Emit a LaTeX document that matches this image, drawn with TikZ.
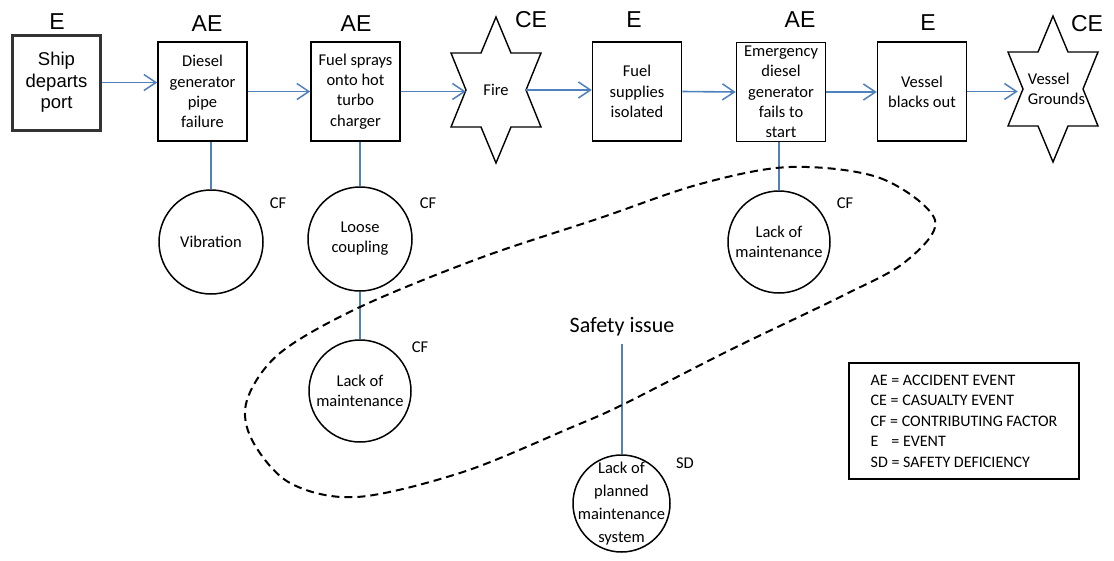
\documentclass[tikz,border=0pt]{standalone}
\usepackage{fontspec}
\setmainfont{Carlito}
\newfontfamily\arialfont{Liberation Sans}
\usetikzlibrary{arrows.meta}
\definecolor{linkblue}{RGB}{79,129,189}

\begin{document}
\begin{tikzpicture}[x=1pt,y=-1pt,
  evbox/.style={draw, line width=1.5pt, minimum width=89pt, minimum height=99pt,
    inner sep=0pt, align=center, font=\fontsize{16.5}{20.3}\selectfont},
  startbox/.style={draw=black!80, line width=3pt, minimum width=88pt, minimum height=95pt,
    inner sep=0pt, align=center, font=\arialfont\fontsize{18.5}{21.7}\selectfont},
  starbox/.style={inner sep=0pt, minimum height=20pt, align=left,
    font=\fontsize{16.5}{20.3}\selectfont},
  factor/.style={draw, circle, line width=1.5pt, inner sep=0pt, align=center,
    font=\fontsize{16.5}{20}\selectfont},
  tag/.style={font=\arialfont\fontsize{23}{23}\selectfont, inner sep=0pt},
  small/.style={font=\fontsize{16.5}{16.5}\selectfont, inner sep=0pt},
  flow/.style={draw=linkblue, line width=1.6pt, -{Straight Barb[length=12pt,width=16pt,line width=1.5pt]}},
  link/.style={draw=linkblue, line width=1.6pt},
  group/.style={draw, line width=2pt, dash pattern=on 8pt off 5pt},
  legendbox/.style={draw, line width=1.5pt, minimum width=230pt, minimum height=116pt,
    align=left, inner sep=0pt, font=\fontsize{16}{20.5}\selectfont},
  sixstar/.pic={\draw[line width=1.4pt, line join=miter]
    (0,-73) -- (15,-37) -- (45,-37) -- (30,0) -- (45,37) -- (15,37) -- (0,73)
    -- (-15,37) -- (-45,37) -- (-30,0) -- (-45,-37) -- (-15,-37) -- cycle;}
]
\useasboundingbox (0,0) rectangle (1114,560);

% event chain
\node[startbox] (ship) at (56.5,82.5) {Ship\\departs\\port};
\node[evbox] (pipe) at (202.5,91.5) {Diesel\\generator\\pipe\\failure};
\node[evbox] (spray) at (355.5,91.5) {Fuel sprays\\onto hot\\turbo\\charger};
\pic at (496,90) {sixstar};
\node[starbox, minimum width=60pt, align=center] (fire) at (496,90) {Fire};
\node[evbox] (isolated) at (637,91.5) {Fuel\\supplies\\isolated};
\node[evbox] (edg) at (781,92) {Emergency\\diesel\\generator\\fails to\\start};
\node[evbox] (blackout) at (922,91.5) {Vessel\\blacks out};
\pic at (1053,89) {sixstar};
\node[starbox, minimum width=70pt] (grounds) at (1053,89) {\hspace*{7pt}Vessel\\\hspace*{7pt}Grounds};

% event type tags
\node[tag] (tship) at (57,21.5) {E};
\node[tag] (tpipe) at (207,23.5) {AE};
\node[tag] (tspray) at (356,23.5) {AE};
\node[tag] (tfire) at (531,19.5) {CE};
\node[tag] (tisol) at (634,20) {E};
\node[tag] (tedg) at (800,19.5) {AE};
\node[tag] (tblack) at (928,22.5) {E};
\node[tag] (tground) at (1087,24) {CE};

% contributing factors
\node[factor, minimum size=104pt] (vib) at (211,242) {Vibration};
\node[factor, minimum size=104pt] (loose) at (360,239) {Loose\\coupling};
\node[factor, minimum size=102pt] (maintA) at (360,391) {Lack of\\maintenance};
\node[factor, minimum size=102pt] (maintB) at (779,242) {Lack of\\maintenance};
\node[factor, minimum size=97pt] (planned) at (621.5,503.5) {};
\node[inner sep=0pt, align=center, font=\fontsize{16.5}{23}\selectfont] (plannedtext) at (621.5,503.5)
  {Lack of\\planned\\maintenance\\system};

\node[small] (cf1) at (278,203) {CF};
\node[small] (cf2) at (428,203) {CF};
\node[small] (cf3) at (420,347) {CF};
\node[small] (cf4) at (845,203) {CF};
\node[small] (sd) at (685,463) {SD};

\node[inner sep=0pt, font=\fontsize{22}{22}\selectfont] (issue) at (622,327) {Safety issue};

% legend
\node[legendbox] (legend) at (964,421) {AE = ACCIDENT EVENT\\CE = CASUALTY EVENT\\CF = CONTRIBUTING FACTOR\\\makebox[1.07em][l]{E} = EVENT\\SD = SAFETY DEFICIENCY};

% flow arrows
\draw[flow] (ship.east) -- (ship.east -| pipe.west);
\draw[flow] (pipe.east) -- (spray.west);
\draw[flow] (spray.east) -- (spray.east -| fire.west);
\draw[flow] (fire.east) -- (fire.east -| isolated.west);
\draw[flow] (isolated.east) -- (edg.west);
\draw[flow] (edg.east) -- (edg.east -| blackout.west);
\draw[flow] (blackout.east) -- (blackout.east -| grounds.west);

% factor links
\draw[link] (vib.north |- pipe.south) -- (vib.north);
\draw[link] (spray.south -| loose.north) -- (loose.north);
\draw[link] (loose.south) -- (maintA.north);
\draw[link] (edg.south -| maintB.north) -- (maintB.north);
\draw[link, shorten <=7pt] (issue.south) -- (issue.south |- planned.north);

% safety issue grouping
\draw[group] plot[smooth cycle, tension=0.55] coordinates {
  (790,167) (880,178) (935,220) (905,262) (840,297) (730,350) (622,405)
  (570,428) (463,472) (357,497) (290,483) (252,440) (247,400) (280,353)
  (360,307) (480,258) (600,218) (700,184)};
\end{tikzpicture}
\end{document}
